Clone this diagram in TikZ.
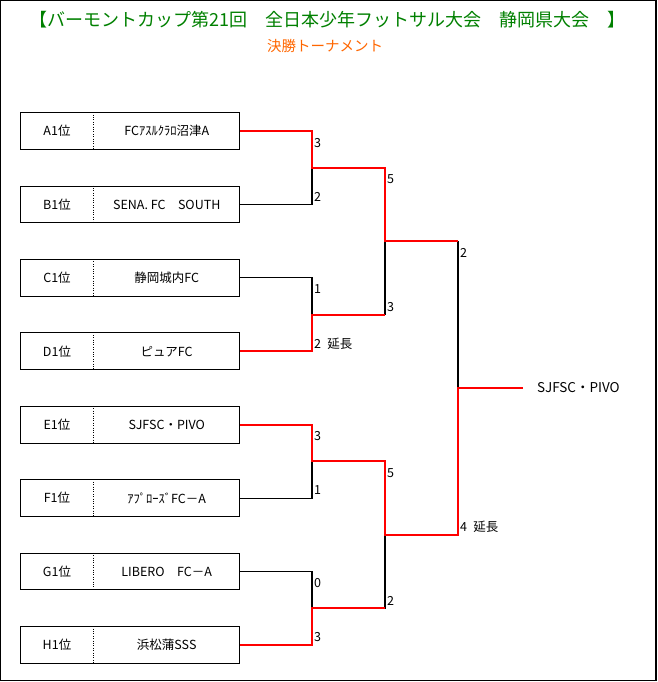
\documentclass[tikz,border=0pt]{standalone}
\usepackage{fontspec}
\setmainfont{Noto Sans CJK JP}
\usetikzlibrary{calc}
\definecolor{titlegreen}{RGB}{0,128,0}
\definecolor{suborange}{RGB}{255,102,0}
\begin{document}
\begin{tikzpicture}[x=1pt,y=-1pt,
  teambox/.style={draw, line width=1pt, minimum width=218.6pt, minimum height=36.6pt, inner sep=0pt},
  teamtext/.style={inner sep=0pt, font=\fontsize{12.5}{14}\selectfont},
  loser/.style={line width=1.1pt},
  winner/.style={red, line width=2pt},
  score/.style={anchor=west, inner sep=0pt, font=\fontsize{12.5}{14}\selectfont}]
\useasboundingbox (0,0) rectangle (657,682);
\draw[line width=1.2pt] (0.6,0.6) rectangle (656,680.6);
\node[text=titlegreen, font=\fontsize{18}{20}\selectfont] (title) at (327.5,20) {【バーモントカップ第21回　全日本少年フットサル大会　静岡県大会　】};
\node[text=suborange, font=\fontsize{14.5}{16}\selectfont] (subtitle) at (325,46) {決勝トーナメント};

\foreach \grp/\club [count=\i from 0] in {A/{FCｱｽﾙｸﾗﾛ沼津A}, B/{SENA. FC　SOUTH}, C/{静岡城内FC}, D/{ピュアFC}, E/{SJFSC・PIVO}, F/{ｱﾌﾟﾛｰｽﾞFC－A}, G/{LIBERO　FC－A}, H/{浜松蒲SSS}}{
  \node[teambox] (team\grp) at (130, 131+73.43*\i) {};
  \node[teamtext] (seed\grp) at (57, 131+73.43*\i) {\grp1位};
  \node[teamtext] (name\grp) at (166.7, 131+73.43*\i) {\club};
  \draw[dotted] (team\grp.north west) ++(72.6,0) -- ++(0,36.6);
}

\coordinate (m1) at (312,167.7);
\coordinate (m2) at (312,314.6);
\coordinate (m3) at (312,461.4);
\coordinate (m4) at (312,608.3);
\coordinate (s1) at (385,241.2);
\coordinate (s2) at (385,534.8);
\coordinate (fin) at (458,388);
\coordinate (champ) at (523,388);

\draw[loser] (teamA.east) -| (m1) |- (teamB.east);
\draw[loser] (teamC.east) -| (m2) |- (teamD.east);
\draw[loser] (teamE.east) -| (m3) |- (teamF.east);
\draw[loser] (teamG.east) -| (m4) |- (teamH.east);
\draw[loser] (m1) -| (s1) |- (m2);
\draw[loser] (m3) -| (s2) |- (m4);
\draw[loser] (s1) -| (fin) |- (s2);

\draw[winner] (teamA.east) -| (m1) -| (s1) -- (s1 -| fin);
\draw[winner] (teamD.east) -| (m2) -- (m2 -| s1);
\draw[winner] (teamE.east) -| (m3) -| (s2) -| (fin) -- (champ);
\draw[winner] (teamH.east) -| (m4) -- (m4 -| s2);

\node[score] (scA) at ($(m1 |- teamA.east)+(2,11.6)$) {3};
\node[score] (scB) at ($(m1 |- teamB.east)+(2,-7.7)$) {2};
\node[score] (scC) at ($(m2 |- teamC.east)+(2,11.6)$) {1};
\node[score] (scD) at ($(m2 |- teamD.east)+(2,-7.7)$) {2\enspace 延長};
\node[score] (scE) at ($(m3 |- teamE.east)+(2,11.6)$) {3};
\node[score] (scF) at ($(m3 |- teamF.east)+(2,-7.7)$) {1};
\node[score] (scG) at ($(m4 |- teamG.east)+(2,11.6)$) {0};
\node[score] (scH) at ($(m4 |- teamH.east)+(2,-7.7)$) {3};
\node[score] (scAB) at ($(s1 |- m1)+(2,11.6)$) {5};
\node[score] (scCD) at ($(s1 |- m2)+(2,-7.7)$) {3};
\node[score] (scEF) at ($(s2 |- m3)+(2,11.6)$) {5};
\node[score] (scGH) at ($(s2 |- m4)+(2,-7.7)$) {2};
\node[score] (scTop) at ($(fin |- s1)+(2,11.6)$) {2};
\node[score] (scBot) at ($(fin |- s2)+(2,-7.7)$) {4\enspace 延長};

\node[anchor=west, inner sep=0pt, font=\fontsize{13.5}{15}\selectfont] (champion) at ($(champ)+(14,0)$) {SJFSC・PIVO};
\end{tikzpicture}
\end{document}
